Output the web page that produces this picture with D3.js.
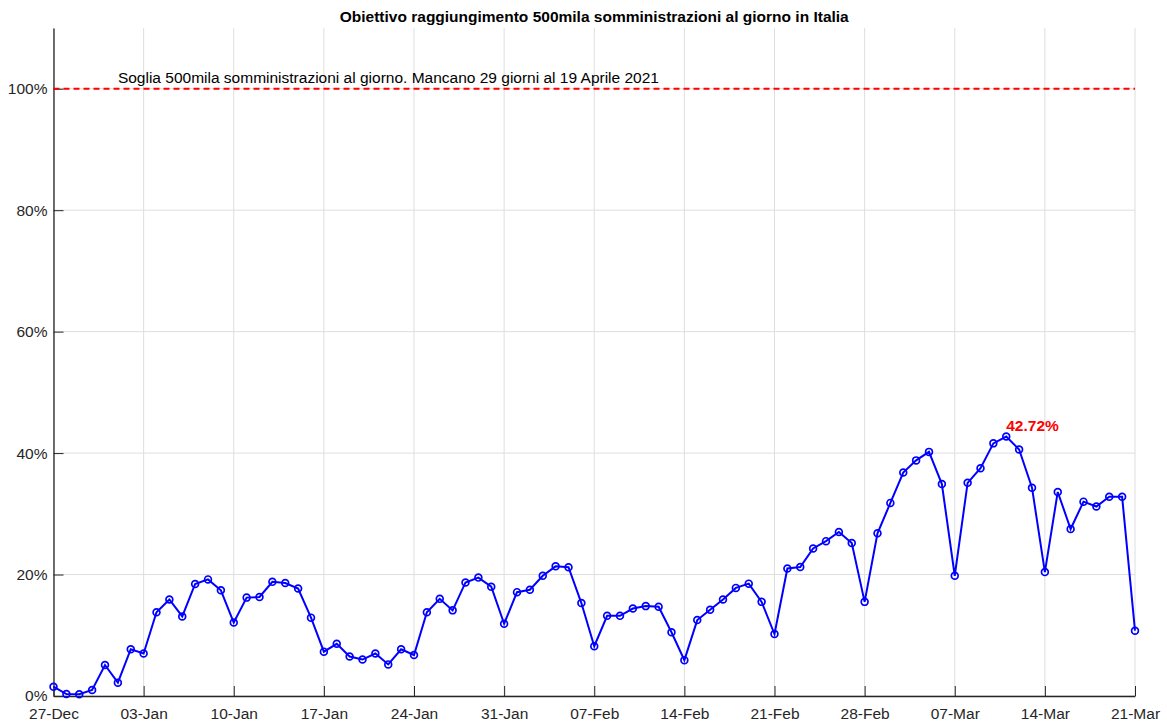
<!DOCTYPE html>
<html>
<head>
<meta charset="utf-8">
<script src="https://cdn.jsdelivr.net/npm/d3@7"></script>
<style>
  body { margin: 0; background: #fff; }
  svg text { font-family: "Liberation Sans", Arial, Helvetica, sans-serif; }
  .grid line { stroke: #dedede; stroke-width: 1; }
  .axis path, .axis line { stroke: #262626; }
  .axis text { fill: #262626; font-size: 15.5px; }
</style>
</head>
<body>
<svg></svg>
<script>
var width = 1167;
var height = 722;

// daily share of the 500k target (%), 27-Dec-2020 .. 21-Mar-2021
var startDay = "2020-12-27";
var endDay = "2021-03-21";
var percent = [
  1.53, 0.33, 0.28, 0.99, 5.1, 2.2, 7.7,
  7.0, 13.8, 15.9, 13.1, 18.45, 19.2, 17.4,
  12.1, 16.2, 16.3, 18.8, 18.6, 17.7, 12.9,
  7.3, 8.6, 6.5, 6.0, 7.0, 5.2, 7.7,
  6.75, 13.8, 16.0, 14.1, 18.7, 19.5, 18.0,
  11.9, 17.1, 17.5, 19.8, 21.35, 21.2, 15.3,
  8.2, 13.2, 13.2, 14.4, 14.8, 14.7, 10.5,
  5.9, 12.5, 14.2, 15.9, 17.8, 18.5, 15.5,
  10.2, 21.0, 21.25, 24.3, 25.5, 27.0, 25.2,
  15.5, 26.8, 31.8, 36.8, 38.8, 40.2, 34.9,
  19.8, 35.1, 37.5, 41.6, 42.72, 40.6, 34.3,
  20.4, 33.6, 27.5, 32.0, 31.2, 32.8, 32.8,
  10.75
];
var yTicks = [0, 20, 40, 60, 80, 100];
var threshold = 100;
var titleText = "Obiettivo raggiungimento 500mila somministrazioni al giorno in Italia";
var thresholdText = "Soglia 500mila somministrazioni al giorno. Mancano 29 giorni al 19 Aprile 2021";

var parse = d3.utcParse("%Y-%m-%d");
var t0 = parse(startDay);
var data = percent.map(function(v, i) {
  return { date: d3.utcDay.offset(t0, i), value: v };
});

var margin = { left: 53.5, right: 1167 - 1135, top: 28, bottom: 722 - 696 };

var svg = d3.select("svg")
    .attr("width", width)
    .attr("height", height);

var x = d3.scaleUtc()
    .domain([t0, parse(endDay)])
    .range([margin.left, width - margin.right]);

var y = d3.scaleLinear()
    .domain([0, 110])
    .range([height - margin.bottom, margin.top]);

var xTicks = d3.utcSunday.range(t0, d3.utcDay.offset(parse(endDay), 1));

// grid
var grid = svg.append("g").attr("class", "grid");
grid.selectAll(".gx")
    .data(xTicks)
    .enter().append("line")
    .attr("x1", function(d) { return x(d); })
    .attr("x2", function(d) { return x(d); })
    .attr("y1", y(0))
    .attr("y2", margin.top);
grid.selectAll(".gy")
    .data(yTicks)
    .enter().append("line")
    .attr("x1", margin.left)
    .attr("x2", width - margin.right)
    .attr("y1", function(d) { return y(d); })
    .attr("y2", function(d) { return y(d); });

// axes (ticks pointing inward)
var xAxis = svg.append("g")
    .attr("class", "axis")
    .attr("transform", "translate(0," + y(0) + ")")
    .call(d3.axisBottom(x)
        .tickValues(xTicks)
        .tickFormat(d3.utcFormat("%d-%b"))
        .tickSizeInner(-10)
        .tickSizeOuter(0)
        .tickPadding(14));
xAxis.select(".domain").attr("stroke-width", 1.3);
xAxis.selectAll("text").attr("dy", "0.55em");

var yAxis = svg.append("g")
    .attr("class", "axis")
    .attr("transform", "translate(" + margin.left + ",0)")
    .call(d3.axisLeft(y)
        .tickValues(yTicks)
        .tickFormat(function(d) { return d + "%"; })
        .tickSizeInner(-10)
        .tickSizeOuter(0)
        .tickPadding(6));
yAxis.select(".domain").attr("stroke-width", 1.3);

// threshold
svg.append("line")
    .attr("x1", margin.left)
    .attr("x2", width - margin.right)
    .attr("y1", y(threshold))
    .attr("y2", y(threshold))
    .attr("stroke", "#ff0000")
    .attr("stroke-width", 2)
    .attr("stroke-dasharray", "6,4");

svg.append("text")
    .attr("x", x(d3.utcDay.offset(t0, 5)))
    .attr("y", y(threshold) - 6)
    .attr("font-size", "15.5px")
    .attr("fill", "#000")
    .text(thresholdText);

// line + markers
var line = d3.line()
    .x(function(d) { return x(d.date); })
    .y(function(d) { return y(d.value); });

svg.append("path")
    .datum(data)
    .attr("d", line)
    .attr("fill", "none")
    .attr("stroke", "#0000ff")
    .attr("stroke-width", 2);

svg.selectAll(".dot")
    .data(data)
    .enter().append("circle")
    .attr("class", "dot")
    .attr("cx", function(d) { return x(d.date); })
    .attr("cy", function(d) { return y(d.value); })
    .attr("r", 3.4)
    .attr("fill", "none")
    .attr("stroke", "#0000ff")
    .attr("stroke-width", 1.7);

// max label
var maxPt = data.reduce(function(a, b) { return b.value > a.value ? b : a; });
svg.append("text")
    .attr("x", x(maxPt.date))
    .attr("y", y(maxPt.value) - 6)
    .attr("font-size", "15.5px")
    .attr("font-weight", "bold")
    .attr("fill", "#ff0000")
    .text(maxPt.value.toFixed(2) + "%");

// title
svg.append("text")
    .attr("x", (margin.left + width - margin.right) / 2)
    .attr("y", 22)
    .attr("text-anchor", "middle")
    .attr("font-size", "15.5px")
    .attr("font-weight", "bold")
    .attr("fill", "#000")
    .text(titleText);
</script>
</body>
</html>
